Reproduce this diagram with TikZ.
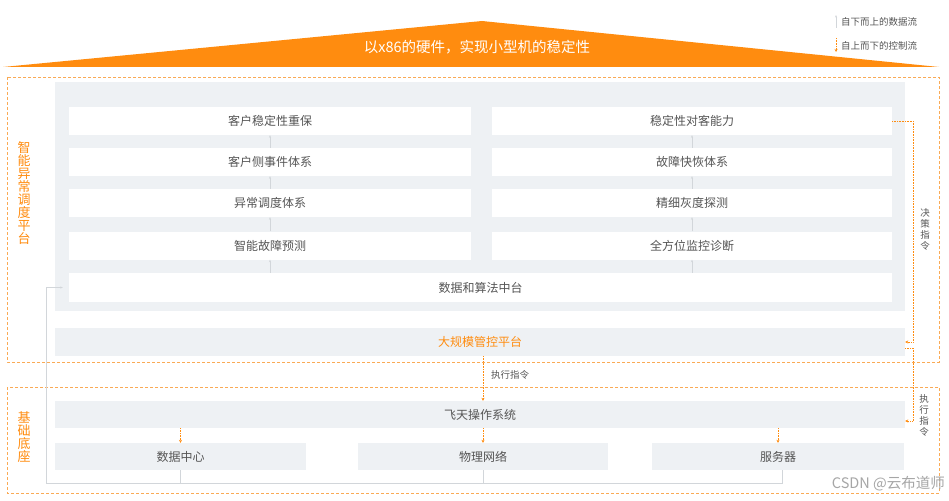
\documentclass[tikz,border=0pt]{standalone}
\usepackage{fontspec}
\setmainfont{Noto Sans CJK SC}
\usetikzlibrary{arrows.meta}
\definecolor{org}{HTML}{FF8C0F}
\definecolor{orgline}{HTML}{FAAA55}
\definecolor{panel}{HTML}{EEF1F4}
\definecolor{txt}{HTML}{555555}
\definecolor{flow}{HTML}{D2D6DA}
\tikzset{
  wbox/.style={fill=white, inner sep=0, minimum height=28, text=txt, font=\fontsize{12}{13}\selectfont},
  gbox/.style={fill=panel, inner sep=0, minimum height=27, text=txt, font=\fontsize{12}{13}\selectfont},
  upflow/.style={draw=flow, line width=0.5pt, -{Stealth[length=2.5pt,width=2pt]}},
  dataline/.style={draw=flow, line width=0.6pt},
  ctrl/.style={draw=orgline, line width=0.6pt, densely dotted, -{Stealth[length=3pt,width=3pt]}, color=org},
  zone/.style={draw=orgline, line width=0.7pt, densely dashed},
  vlabel/.style={text=org, align=center, inner sep=0, font=\fontsize{13}{13}\selectfont},
  vsmall/.style={text=txt, align=center, inner sep=0, font=\fontsize{9.5}{11}\selectfont},
  small/.style={text=txt, inner sep=0, font=\fontsize{9.5}{11}\selectfont},
}
\begin{document}
\begin{tikzpicture}[x=1pt,y=-1pt]
\useasboundingbox[fill=white] (0,0) rectangle (949,500);
% title triangle
\fill[org] (482,21) -- (939,67) -- (3,67) -- cycle;
\node[text=white, inner sep=0, font=\fontsize{14.5}{16}\selectfont] (title) at (477,47) {以x86的硬件，实现小型机的稳定性};
% legend
\coordinate (la1) at (836,28); \coordinate (la2) at (836,15);
\draw[upflow] (la1) -- (la2);
\node[small, anchor=west] (leg1) at (841,22) {自下而上的数据流};
\coordinate (lb1) at (836,38); \coordinate (lb2) at (836,52);
\draw[ctrl] (lb1) -- (lb2);
\node[small, anchor=west] (leg2) at (841,46) {自上而下的控制流};
% zones
\draw[zone] (7,77) rectangle (939,362);
\draw[zone] (7,387) rectangle (939,493);
\node[vlabel] (zl1) at (24,193.5) {智\\能\\异\\常\\调\\度\\平\\台};
\node[vlabel] (zl2) at (24,437) {基\\础\\底\\座};
% panel
\fill[panel] (55,82) rectangle (905,311);
% left column
\node[wbox, minimum width=402] (l1) at (270,121) {客户稳定性重保};
\node[wbox, minimum width=402] (l2) at (270,162) {客户侧事件体系};
\node[wbox, minimum width=402] (l3) at (270,203) {异常调度体系};
\node[wbox, minimum width=402] (l4) at (270,245.5) {智能故障预测};
% right column
\node[wbox, minimum width=400] (r1) at (692,121) {稳定性对客能力};
\node[wbox, minimum width=400] (r2) at (692,162) {故障快恢体系};
\node[wbox, minimum width=400] (r3) at (692,203) {精细灰度探测};
\node[wbox, minimum width=400] (r4) at (692,245.5) {全方位监控诊断};
% data platform
\node[wbox, minimum width=823, minimum height=29] (data) at (480.5,287.5) {数据和算法中台};
% up arrows
\draw[upflow] (l2.north) -- (l1.south);
\draw[upflow] (l3.north) -- (l2.south);
\draw[upflow] (l4.north) -- (l3.south);
\draw[upflow] (data.north -| l4) -- (l4.south);
\draw[upflow] (r2.north) -- (r1.south);
\draw[upflow] (r3.north) -- (r2.south);
\draw[upflow] (r4.north) -- (r3.south);
\draw[upflow] (data.north -| r4) -- (r4.south);
% management platform
\node[gbox, minimum width=850, minimum height=28, text=org] (gm) at (480,342) {大规模管控平台};
% base
\node[gbox, minimum width=850] (fs) at (480,414.5) {飞天操作系统};
\node[gbox, minimum width=251] (dc) at (180.5,456.5) {数据中心};
\node[gbox, minimum width=250] (pn) at (483,456.5) {物理网络};
\node[gbox, minimum width=252] (sv) at (778,456.5) {服务器};
% control arrows
\coordinate (mid) at (483,0);
\draw[ctrl] (gm.south -| mid) -- (fs.north -| mid);
\node[small, anchor=west] (exec1) at (491,374.5) {执行指令};
\draw[ctrl] (fs.south -| dc) -- (dc.north);
\draw[ctrl] (fs.south -| pn) -- (pn.north);
\draw[ctrl] (fs.south -| sv) -- (sv.north);
% decision loop on right
\coordinate (cx) at (913,200);
\draw[ctrl] (r1.east) -| (cx) |- (gm.east);
\node[vsmall] (dec) at (925,229) {决\\策\\指\\令};
\coordinate (cx2) at (913,400);
\draw[ctrl] ([yshift=-6pt]gm.east) -| (cx2) |- ([yshift=-6.5pt]fs.east);
\node[vsmall] (exec2) at (924,415) {执\\行\\指\\令};
% data flow from base up to data platform
\coordinate (gl) at (46,483);
\coordinate (gb) at (782,483);
\draw[dataline] (sv.south -| gb) -- (gb) -- (gl);
\draw[dataline] (dc.south) -- (dc.south |- gl);
\draw[dataline] (pn.south) -- (pn.south |- gl);
\draw[upflow] (gl) |- ([xshift=-6pt]data.west);
% watermark
\node[text=black!35, inner sep=0, anchor=east, font=\fontsize{14.5}{16}\selectfont] (wm) at (945,484) {CSDN @云布道师};
\end{tikzpicture}
\end{document}
